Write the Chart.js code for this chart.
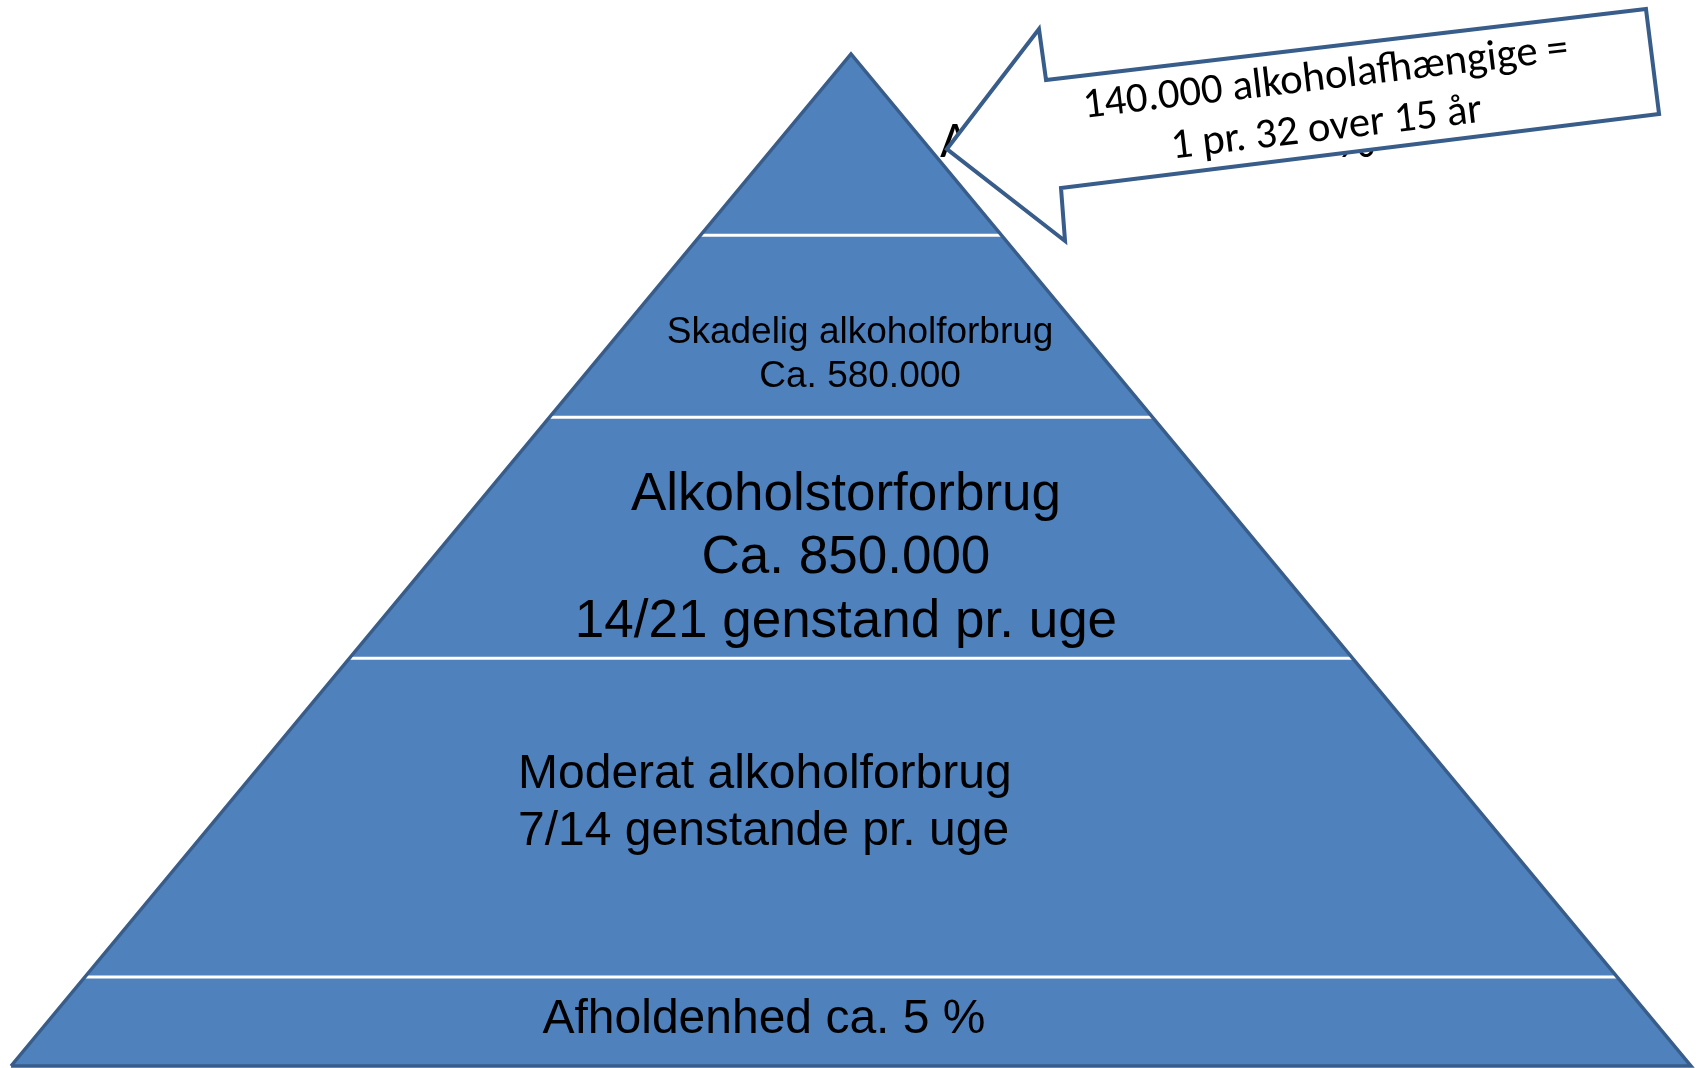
<!DOCTYPE html>
<html><head><meta charset="utf-8">
<script src="https://cdn.jsdelivr.net/npm/chart.js@4.4.1/dist/chart.umd.min.js"></script>
<style>html,body{margin:0;padding:0;background:#fff;overflow:hidden}canvas{display:block}</style>
</head><body>
<canvas id="c" width="1700" height="1068"></canvas>
<script>
// ---------------- data ----------------
const pyramidHeight = 100;                 // level of the apex
const pyramidHalfBase = 50;                // half of the base width
const tierBoundaries = [8.8, 40.3, 64.1, 82.1];   // levels of the white separators
const tierTexts = [
  ['Afholdenhed ca. 5 %'],
  ['Moderat alkoholforbrug', '7/14 genstande pr. uge'],
  ['Alkoholstorforbrug', 'Ca. 850.000', '14/21 genstand pr. uge'],
  ['Skadelig alkoholforbrug', 'Ca. 580.000']
];
const topTierText = 'Afhængighed ca. 3 %';
const calloutLines = ['140.000 alkoholafhængige =', '1 pr. 32 over 15 år'];

// ---------------- styles / layout ----------------
const FILL = '#4F81BD', EDGE = '#385D8A';
const ARIAL = '"Liberation Sans", Arial, sans-serif';
const CALIBRI = '"Carlito", "Lato", sans-serif';

function halfWidthAt(level) { return pyramidHalfBase * (1 - level / pyramidHeight); }

const datasets = [
  { label: 'pyramid', data: [{x: -pyramidHalfBase, y: 0}, {x: 0, y: pyramidHeight}, {x: pyramidHalfBase, y: 0}],
    showLine: true, fill: 'origin', backgroundColor: FILL, borderWidth: 0, pointRadius: 0, order: 3 }
];
tierBoundaries.forEach(b => datasets.push({
  label: 'sep' + b, data: [{x: -halfWidthAt(b), y: b}, {x: halfWidthAt(b), y: b}],
  showLine: true, fill: false, borderColor: '#ffffff', borderWidth: 3, pointRadius: 0, order: 2
}));
datasets.push({ label: 'outline',
  data: [{x: -pyramidHalfBase, y: 0}, {x: 0, y: pyramidHeight}, {x: pyramidHalfBase, y: 0}, {x: -pyramidHalfBase, y: 0}],
  showLine: true, fill: false, borderColor: EDGE, borderWidth: 3.5, borderJoinStyle: 'miter', pointRadius: 0, order: 1 });

function fitFont(ctx, text, width, family) {
  ctx.font = '100px ' + family;
  const w = ctx.measureText(text).width;
  return (100 * width / w).toFixed(1) + 'px ' + family;
}

const overlay = {
  id: 'overlay',
  afterDatasetsDraw(chart, args, opts) {
    const ctx = chart.ctx, X = chart.scales.x, Y = chart.scales.y;
    const px = v => X.getPixelForValue(v), py = v => Y.getPixelForValue(v);
    ctx.save();
    ctx.fillStyle = '#000';
    ctx.textBaseline = 'alphabetic';
    tierTexts.forEach((lines, i) => {
      const L = opts.tiers[i];
      ctx.font = L.size + 'px ' + ARIAL;
      ctx.textAlign = L.align;
      lines.forEach((t, j) => ctx.fillText(t, px(L.x), py(L.y[j])));
    });
    // text of the top tier (mostly hidden by the callout)
    const H = opts.hidden;
    ctx.textAlign = 'left';
    ctx.font = fitFont(ctx, topTierText, H.width, CALIBRI);
    ctx.fillText(topTierText, px(H.x), py(H.y));
    // callout shape
    const pts = opts.callout.map(p => [px(p[0]), py(p[1])]);
    ctx.beginPath();
    pts.forEach((p, k) => k ? ctx.lineTo(p[0], p[1]) : ctx.moveTo(p[0], p[1]));
    ctx.closePath();
    ctx.fillStyle = '#ffffff';
    ctx.fill();
    ctx.lineWidth = 4; ctx.strokeStyle = EDGE; ctx.lineJoin = 'miter';
    ctx.stroke();
    // callout text, rotated like the callout's long edge
    const a = pts[2], b = pts[3];
    const ang = Math.atan2(b[1] - a[1], b[0] - a[0]);
    const font = fitFont(ctx, calloutLines[0], opts.calloutTextWidth, CALIBRI);
    ctx.fillStyle = '#000';
    ctx.textAlign = 'center';
    calloutLines.forEach((t, j) => {
      const c = opts.calloutText[j];
      ctx.save();
      ctx.translate(px(c[0]), py(c[1]));
      ctx.rotate(ang);
      ctx.font = font;
      ctx.fillText(t, 0, 0);
      ctx.restore();
    });
    ctx.restore();
  }
};

new Chart(document.getElementById('c'), {
  type: 'scatter',
  data: { datasets },
  options: {
    responsive: false, animation: false, devicePixelRatio: 1,
    layout: { padding: 0 },
    elements: { line: { tension: 0 } },
    scales: {
      x: { type: 'linear', display: false, min: -50.655, max: 50.536 },
      y: { type: 'linear', display: false, min: -0.198, max: 105.336 }
    },
    plugins: {
      legend: { display: false }, tooltip: { enabled: false },
      overlay: {
        tiers: [
          { align: 'center', x: -5.18, y: [3.26], size: 48 },
          { align: 'left', x: -19.82, y: [27.47, 21.84], size: 48 },
          { align: 'center', x: -0.30, y: [54.94, 48.72, 42.39], size: 53 },
          { align: 'center', x: 0.54, y: [71.44, 67.09], size: 37 }
        ],
        hidden: { x: 5.30, y: 89.82, width: 435 },
        callout: [[5.71, 90.61], [11.19, 102.47], [11.61, 97.43], [47.32, 104.45],
                  [48.10, 94.07], [12.50, 86.76], [12.74, 81.52]],
        calloutText: [[28.33, 96.54], [28.39, 91.50]],
        calloutTextWidth: 489
      }
    }
  },
  plugins: [overlay]
});
</script>
</body></html>
